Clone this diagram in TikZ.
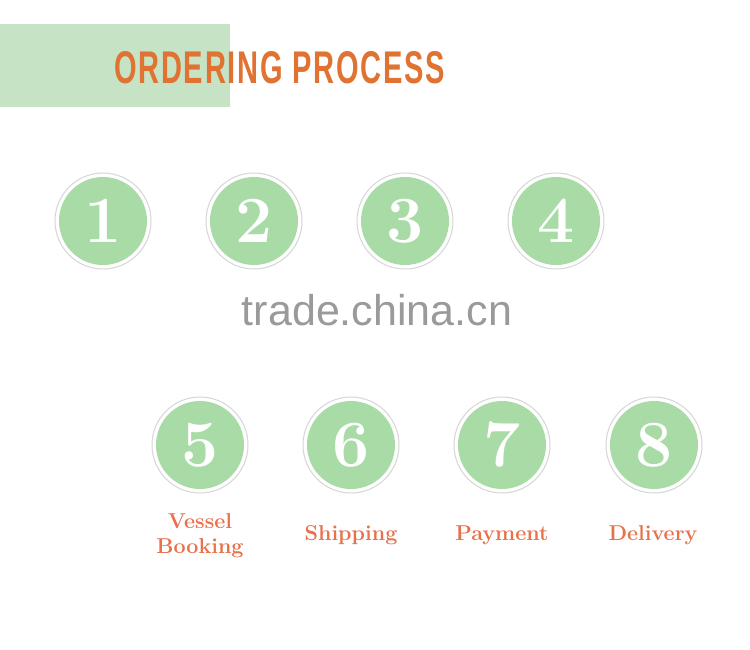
\documentclass[tikz,border=0pt]{standalone}
\usepackage{fontspec}
\newfontfamily\titlefont[LetterSpace=6]{Liberation Sans}
\newfontfamily\wmfont{Liberation Sans}
\definecolor{bandgreen}{HTML}{C6E3C6}
\definecolor{circgreen}{HTML}{A9DBA7}
\definecolor{ringgray}{HTML}{D6D6D6}
\definecolor{titleorange}{HTML}{E07232}
\definecolor{labelorange}{HTML}{E8704A}
\definecolor{wmgray}{HTML}{9A9A9A}
\begin{document}
\begin{tikzpicture}[x=1pt,y=-1pt,
  stepcircle/.style={circle,fill=circgreen,minimum size=88pt,inner sep=0pt,
    text=white,font=\fontsize{66}{66}\selectfont\bfseries},
  ringcircle/.style={circle,draw=ringgray,line width=1pt,minimum size=96pt,inner sep=0pt},
  steplabel/.style={text=labelorange,font=\fontsize{21.5}{25}\selectfont\bfseries,align=center}]
\useasboundingbox[fill=white] (0,0) rectangle (750,650);
\fill[bandgreen] (0,24) rectangle (230,107);
\node[anchor=west,inner sep=0pt,text=titleorange] (title) at (114,68)
  {\resizebox{331pt}{32pt}{\titlefont\fontsize{43}{43}\selectfont\bfseries ORDERING PROCESS}};
\node[text=wmgray,inner sep=0pt] (wm) at (377,310) {\wmfont\fontsize{43}{43}\selectfont trade.china.cn};
% row 1
\foreach \n/\x in {1/103,2/254,3/405,4/556}{
  \node[ringcircle] (r\n) at (\x,221) {};
  \node[stepcircle] (c\n) at (\x,221) {\n};
}
% row 2
\foreach \n/\x in {5/200,6/351,7/502,8/654}{
  \node[ringcircle] (r\n) at (\x,445) {};
  \node[stepcircle] (c\n) at (\x,445) {\n};
}
\node[steplabel] (l5) at (200,536) {Vessel\\Booking};
\node[steplabel] (l6) at (351,535) {Shipping};
\node[steplabel] (l7) at (502,535) {Payment};
\node[steplabel] (l8) at (653,535) {Delivery};
\end{tikzpicture}
\end{document}
